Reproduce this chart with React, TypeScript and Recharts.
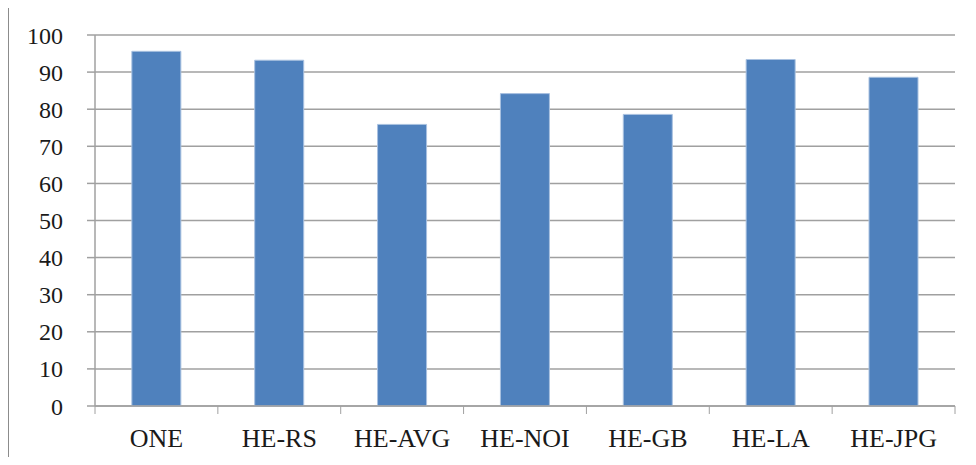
import React from 'react';
import { BarChart, Bar, XAxis, YAxis, CartesianGrid } from 'recharts';

const methods = ['ONE', 'HE-RS', 'HE-AVG', 'HE-NOI', 'HE-GB', 'HE-LA', 'HE-JPG'];
const scores = [95.6, 93.2, 75.9, 84.2, 78.6, 93.4, 88.6];
const yTicks = [0, 10, 20, 30, 40, 50, 60, 70, 80, 90, 100];

const data = methods.map((name, i) => ({ name, score: scores[i] }));

const FONT = '"Liberation Serif", "Times New Roman", serif';
const AXIS_GRAY = '#a0a0a0';

// category label plus a tick mark on each band edge
const CategoryTick = (props: any) => {
  const { x, y, payload, index } = props;
  const half = payload?.offset ?? 0;
  const last = index === methods.length - 1;
  return (
    <g>
      <line x1={x - half} x2={x - half} y1={y} y2={y + 8} stroke={AXIS_GRAY} strokeWidth={1} />
      {last && <line x1={x + half} x2={x + half} y1={y} y2={y + 8} stroke={AXIS_GRAY} strokeWidth={1} />}
      <text x={x} y={y + 41} textAnchor="middle" fill="#1a1a1a" fontFamily={FONT} fontSize={26}>
        {payload.value}
      </text>
    </g>
  );
};

const App: React.FC = () => {
  return (
    <div style={{ position: 'relative', width: 976, height: 465, margin: -8, overflow: 'hidden', background: '#fff' }}>
      <div
        style={{
          position: 'absolute',
          left: 7,
          top: 5,
          width: 1000,
          height: 500,
          borderTop: '2px solid #8c8c8c',
          borderLeft: '2px solid #8c8c8c',
        }}
      />
      <BarChart
        width={976}
        height={465}
        data={data}
        margin={{ top: 35, right: 21, bottom: 10, left: 0 }}
        barCategoryGap="30%"
        style={{ position: 'absolute', left: 0, top: 0 }}
      >
        <CartesianGrid vertical={false} stroke={AXIS_GRAY} strokeWidth={1.5} />
        <XAxis
          dataKey="name"
          height={49}
          tickSize={0}
          tickMargin={0}
          tickLine={false}
          axisLine={{ stroke: AXIS_GRAY, strokeWidth: 1.5 }}
          tick={<CategoryTick />}
          interval={0}
        />
        <YAxis
          width={95}
          domain={[0, 100]}
          ticks={yTicks}
          interval={0}
          tickSize={8}
          tickMargin={24}
          tickLine={{ stroke: AXIS_GRAY, strokeWidth: 1.5 }}
          axisLine={{ stroke: AXIS_GRAY, strokeWidth: 1.5 }}
          tick={{ fill: '#1a1a1a', fontFamily: FONT, fontSize: 24 }}
        />
        <Bar dataKey="score" fill="#4f81bd" stroke="#a9c1e0" strokeWidth={1} isAnimationActive={false} />
      </BarChart>
    </div>
  );
};

export default App;
